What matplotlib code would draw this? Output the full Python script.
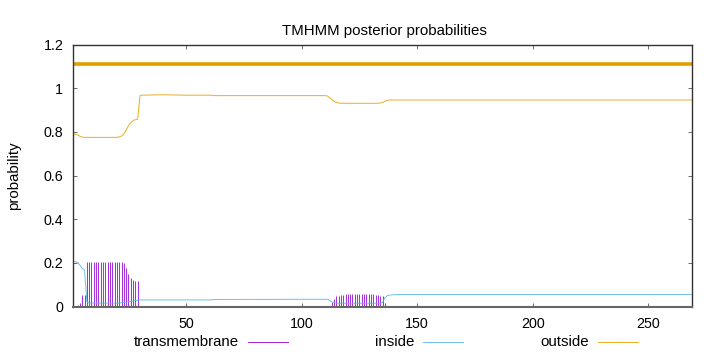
import matplotlib
matplotlib.use("Agg")
import matplotlib.pyplot as plt
from matplotlib.lines import Line2D

plt.rcParams['font.family'] = ['Liberation Sans', 'DejaVu Sans']

# ---- data ----
seq_len = 269
series_names = ["transmembrane", "inside", "outside"]
series_colors = ["#9400d3", "#56b4e9", "#e69f00"]

# outside probability (breakpoints of the line)
outside_x = [1, 2, 3, 4, 5, 6, 20, 21, 22, 23, 24, 25, 26, 27, 28, 29, 30, 31, 35, 40, 45, 50,
             61, 62, 110, 111, 112, 113, 114, 115, 116, 118, 133, 134, 135, 136, 137, 138, 269]
outside_y = [0.790, 0.789, 0.786, 0.780, 0.776, 0.775, 0.775, 0.777, 0.781, 0.790, 0.808, 0.828,
             0.842, 0.851, 0.856, 0.858, 0.966, 0.968, 0.969, 0.970, 0.969, 0.968,
             0.968, 0.966, 0.966, 0.965, 0.958, 0.948, 0.940, 0.935, 0.932, 0.931, 0.931, 0.932,
             0.934, 0.940, 0.944, 0.946, 0.946]

# inside probability (breakpoints of the line)
inside_x = [1, 2, 3, 4, 5, 6, 7, 8, 20, 22, 25, 28, 30, 61, 62, 111, 112, 113, 114, 115, 134,
            135, 136, 137, 138, 140, 145, 269]
inside_y = [0.207, 0.206, 0.203, 0.190, 0.175, 0.168, 0.022, 0.017, 0.016, 0.018, 0.022, 0.028,
            0.031, 0.031, 0.033, 0.034, 0.030, 0.022, 0.018, 0.016, 0.016, 0.020, 0.040, 0.050,
            0.053, 0.055, 0.056, 0.056]

# transmembrane probability (impulses, residues where visible)
tm_x = [1, 2, 3, 4, 5, 6, 7, 8, 9, 10, 11, 12, 13, 14, 15, 16, 17, 18, 19, 20, 21, 22, 23, 24,
        25, 26, 27, 28, 29,
        113, 114, 115, 116, 117, 118, 119, 120, 121, 122, 123, 124, 125, 126, 127, 128, 129, 130,
        131, 132, 133, 134, 135, 136, 137]
tm_y = [0.002, 0.004, 0.007, 0.016, 0.054, 0.055, 0.206, 0.206, 0.206, 0.206, 0.206, 0.206,
        0.206, 0.206, 0.206, 0.206, 0.206, 0.206, 0.206, 0.206, 0.206, 0.206, 0.198, 0.176,
        0.149, 0.133, 0.122, 0.118, 0.118,
        0.023, 0.035, 0.049, 0.051, 0.053, 0.055, 0.056, 0.057, 0.057, 0.057, 0.057, 0.057,
        0.057, 0.057, 0.057, 0.057, 0.057, 0.057, 0.056, 0.055, 0.053, 0.051, 0.049, 0.015, 0.005]

# predicted topology: whole sequence outside
topology_start = [1]
topology_end = [269]
topology_level = 1.11

x_ticks = [50, 100, 150, 200, 250]
y_ticks = [0, 0.2, 0.4, 0.6, 0.8, 1.0, 1.2]
y_ticklabels = ["0", "0.2", "0.4", "0.6", "0.8", "1", "1.2"]

# ---- figure ----
W, H = 720, 352
fig = plt.figure(figsize=(W / 100, H / 100), dpi=100)
ax = fig.add_axes([73 / W, 1 - 306.7 / H, 619 / W, 262.2 / H])

tm_art = ax.vlines(tm_x, 0, tm_y, color=series_colors[0], lw=0.75, alpha=0.8)
in_art, = ax.plot(inside_x, inside_y, color=series_colors[1], lw=0.7, alpha=0.85)
out_art, = ax.plot(outside_x, outside_y, color=series_colors[2], lw=0.7, alpha=0.85)
for s, e in zip(topology_start, topology_end):
    ax.plot([s, e], [topology_level, topology_level], color=series_colors[2], lw=2.6,
            solid_capstyle='butt')

ax.set_xlim(1, seq_len)
ax.set_ylim(0, 1.2)
ax.set_xticks(x_ticks)
ax.set_yticks(y_ticks)
ax.set_yticklabels(y_ticklabels)
ax.tick_params(direction='in', length=3, width=0.6, colors='#555555', labelcolor='black',
               labelsize=10.3, top=True, right=True, pad=7)
ax.tick_params(axis='x', pad=7.5)
for sp in ax.spines.values():
    sp.set_color('#333333')
    sp.set_linewidth(1.0)
ax.spines['bottom'].set_linewidth(1.5)
ax.spines['bottom'].set_color('#666666')

fig.text(384 / W, 1 - 31 / H, "TMHMM posterior probabilities", ha='center', va='center',
         fontsize=10.8)
fig.text(14 / W, 1 - 175.6 / H, "probability", rotation=90, ha='center', va='center',
         fontsize=10.8)

# legend (gnuplot style: text then sample line)
text_right = [239, 414, 589]
leg_y = 1 - 342 / H
for name, col, tr in zip(series_names, series_colors, text_right):
    fig.text(tr / W, leg_y, name, ha='right', va='center', fontsize=10.8)
    fig.add_artist(Line2D([(tr + 9) / W, (tr + 49) / W], [leg_y, leg_y],
                          transform=fig.transFigure, color=col, lw=0.7, alpha=0.85))

fig.savefig("out.png", dpi=100)
